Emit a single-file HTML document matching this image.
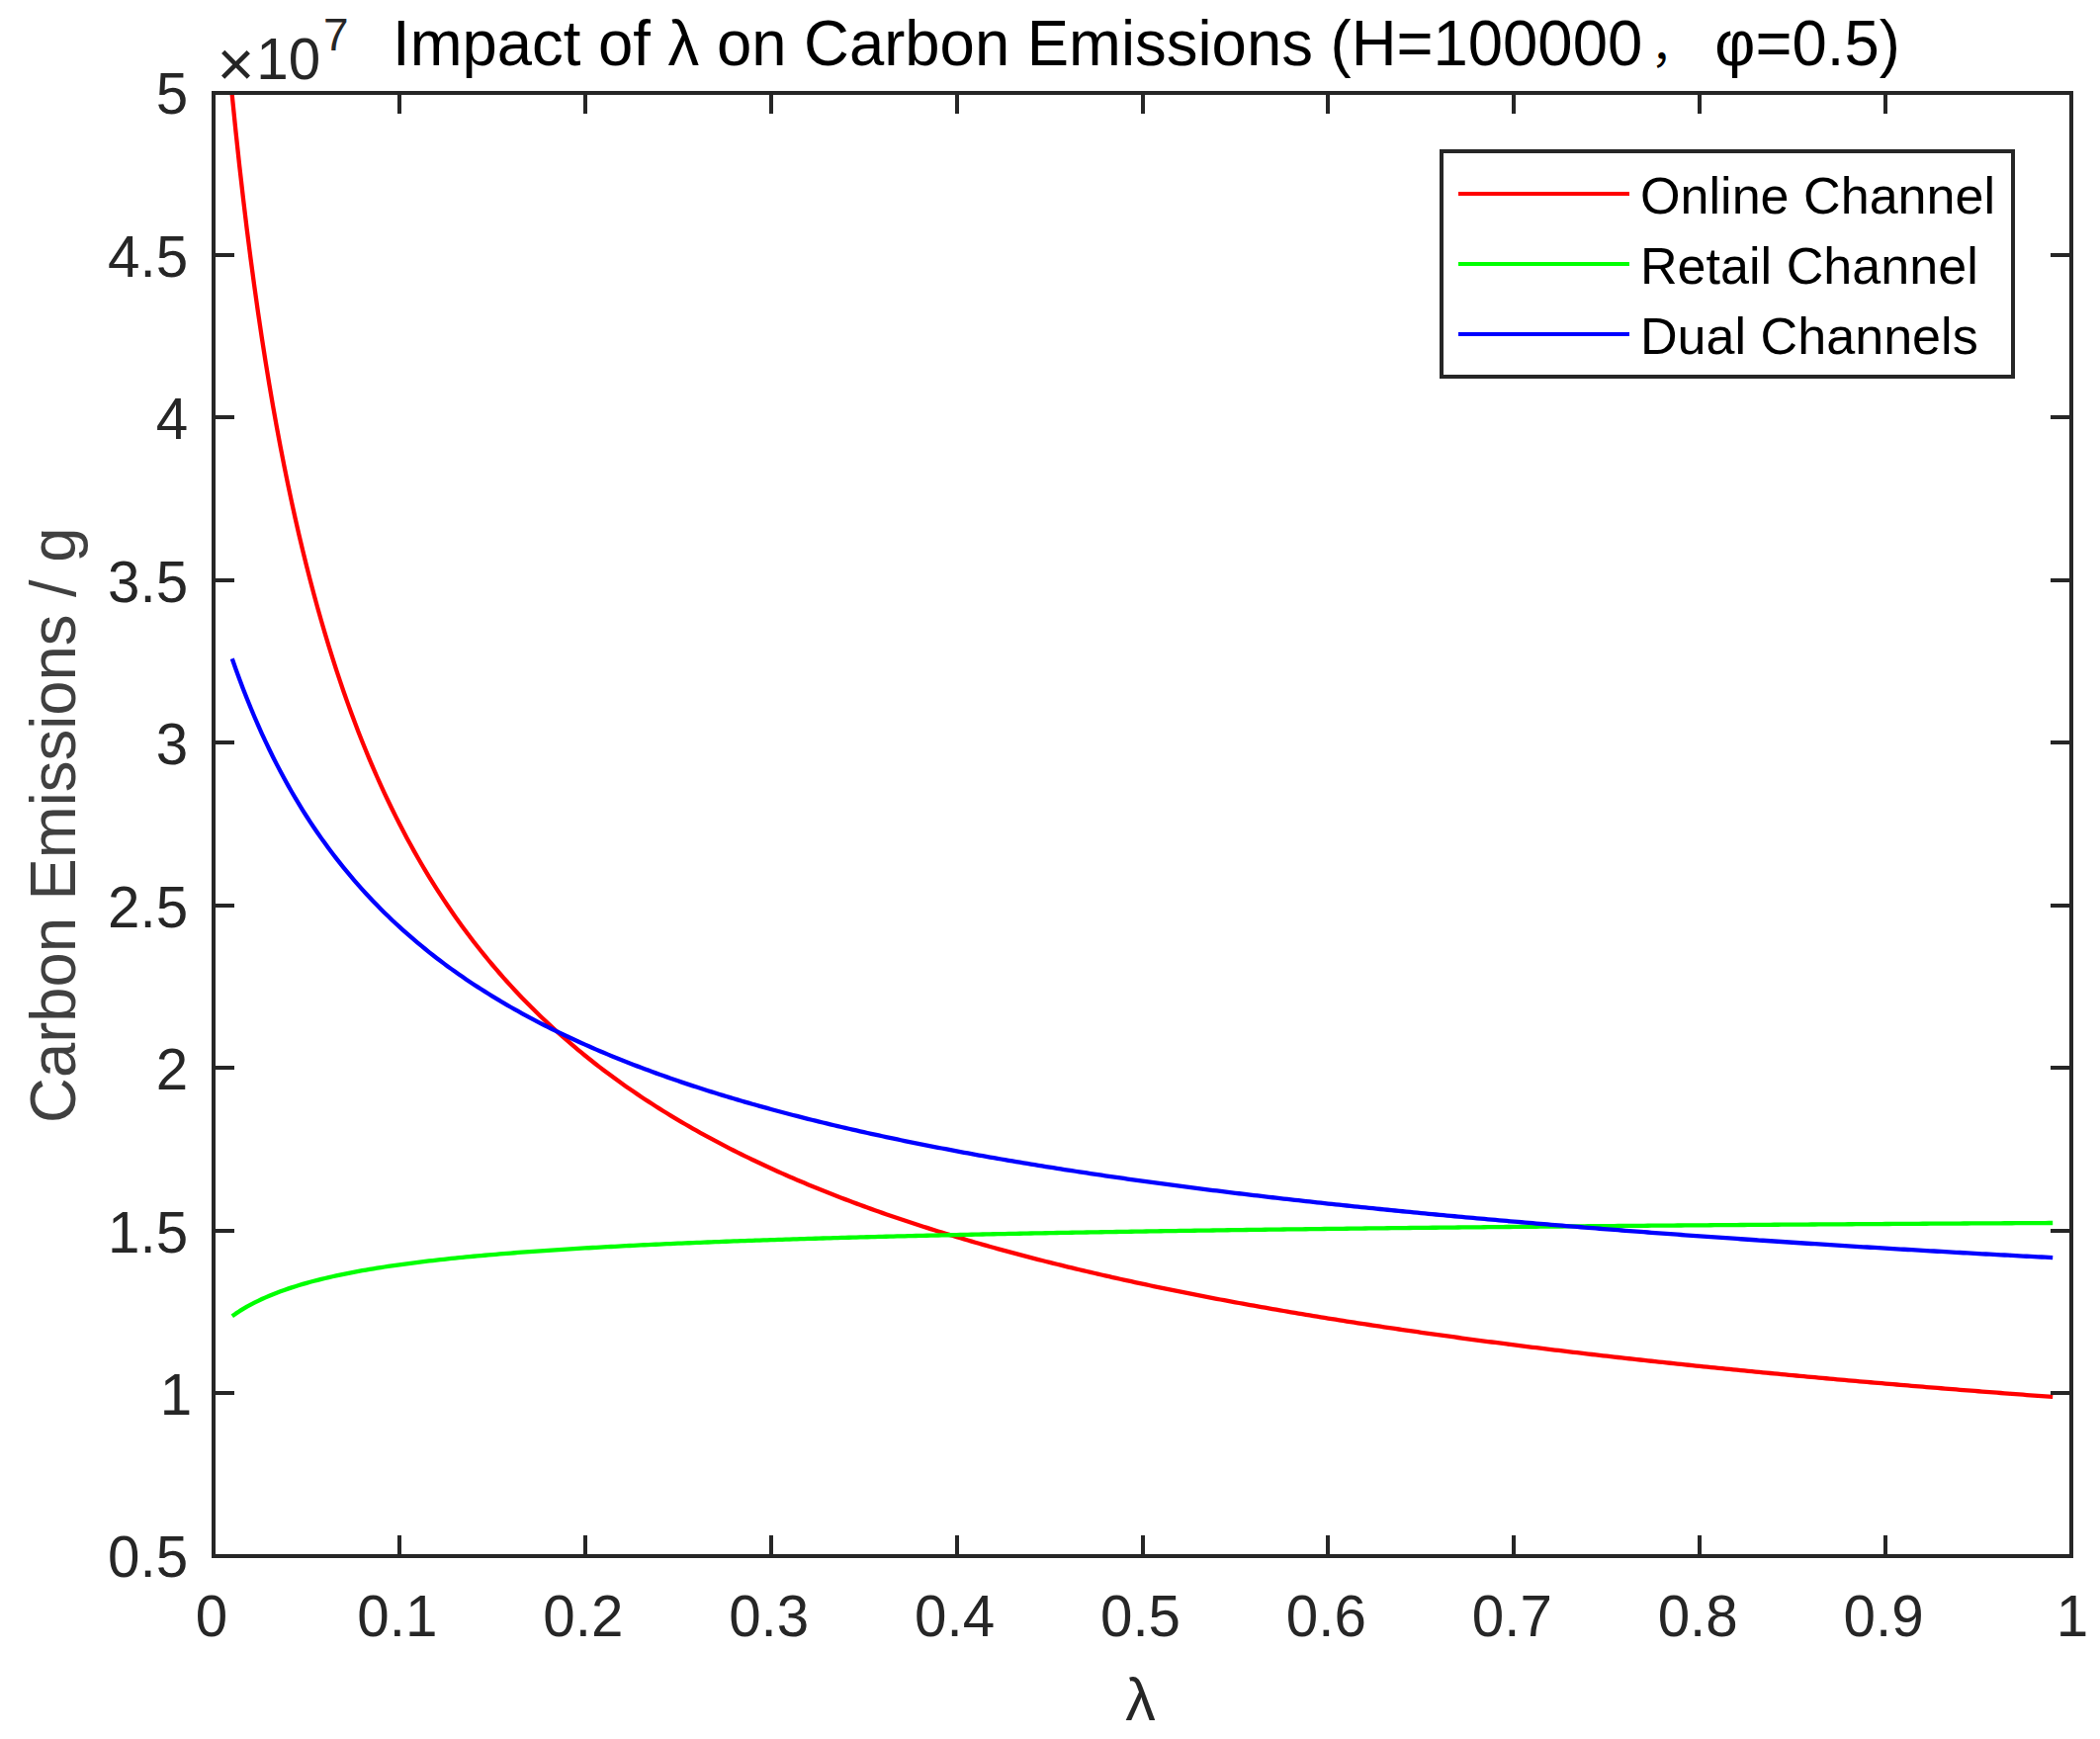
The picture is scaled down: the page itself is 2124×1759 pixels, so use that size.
<!DOCTYPE html>
<html lang="en">
<head>
<meta charset="utf-8">
<title>Impact of λ on Carbon Emissions</title>
<style>
html,body{margin:0;padding:0;background:#fff;}
body{width:2124px;height:1759px;overflow:hidden;}
svg{display:block;}
text{font-family:"Liberation Sans","Noto Sans CJK SC",sans-serif;}
.tk{font-size:58.33px;fill:#262626;}
.lb{font-size:64.17px;fill:#262626;}
.tt{font-size:64.17px;fill:#000;}
.lg{font-size:52.1px;fill:#000;}
.ax{stroke:#262626;stroke-width:4;fill:none;shape-rendering:crispEdges;}
.cv{fill:none;stroke-width:4.3;stroke-linejoin:round;stroke-linecap:butt;}
</style>
</head>
<body>
<svg width="2124" height="1759" viewBox="0 0 2124 1759">
<rect x="0" y="0" width="2124" height="1759" fill="#fff"/>
<defs><clipPath id="pc"><rect x="216" y="94" width="1879" height="1480"/></clipPath></defs>
<g clip-path="url(#pc)">
<polyline class="cv" stroke="#ff0000" points="234.23,90.90 234.79,96.66 238.55,133.75 242.31,168.65 246.06,201.57 249.82,232.68 253.58,262.14 257.34,290.07 261.10,316.61 264.85,341.87 268.61,365.93 272.37,388.89 276.13,410.82 279.89,431.80 283.64,451.90 287.40,471.16 291.16,489.65 294.92,507.41 298.68,524.49 302.43,540.93 306.19,556.77 309.95,572.03 313.71,586.76 317.47,600.99 321.22,614.73 324.98,628.02 328.74,640.88 332.50,653.33 336.26,665.40 340.01,677.09 343.77,688.44 347.53,699.44 351.29,710.13 355.05,720.52 358.80,730.61 362.56,740.43 366.32,749.98 370.08,759.28 373.84,768.33 377.59,777.15 381.35,785.74 385.11,794.12 388.87,802.29 392.63,810.26 396.38,818.05 400.14,825.65 403.90,833.07 407.66,840.32 411.42,847.41 415.17,854.34 418.93,861.11 422.69,867.74 426.45,874.23 430.21,880.58 433.96,886.79 437.72,892.88 441.48,898.84 445.24,904.69 449.00,910.41 452.75,916.03 456.51,921.53 460.27,926.93 464.03,932.23 467.79,937.43 471.54,942.53 475.30,947.53 479.06,952.45 482.82,957.28 486.58,962.02 490.33,966.68 494.09,971.26 497.85,975.75 501.61,980.18 505.37,984.52 509.12,988.80 512.88,993.00 516.64,997.14 520.40,1001.20 524.16,1005.21 527.91,1009.15 531.67,1013.02 535.43,1016.84 539.19,1020.60 542.95,1024.30 546.70,1027.94 550.46,1031.53 554.22,1035.07 557.98,1038.55 561.74,1041.98 565.49,1045.36 569.25,1048.70 573.01,1051.98 576.77,1055.22 580.53,1058.42 584.28,1061.57 588.04,1064.68 591.80,1067.74 595.56,1070.76 599.32,1073.75 603.07,1076.69 606.83,1079.59 610.59,1082.46 614.35,1085.28 618.11,1088.08 621.86,1090.83 625.62,1093.55 629.38,1096.24 633.14,1098.89 636.90,1101.51 640.65,1104.10 644.41,1106.65 648.17,1109.18 651.93,1111.67 655.69,1114.14 659.44,1116.57 663.20,1118.98 666.96,1121.35 670.72,1123.70 674.48,1126.03 678.23,1128.32 681.99,1130.59 685.75,1132.84 689.51,1135.06 693.27,1137.25 697.02,1139.42 700.78,1141.57 704.54,1143.69 708.30,1145.79 712.06,1147.87 715.81,1149.92 719.57,1151.95 723.33,1153.96 727.09,1155.95 730.85,1157.92 734.60,1159.87 738.36,1161.80 742.12,1163.71 745.88,1165.60 749.64,1167.47 753.39,1169.32 757.15,1171.15 760.91,1172.96 764.67,1174.76 768.43,1176.54 772.18,1178.30 775.94,1180.04 779.70,1181.77 783.46,1183.48 787.22,1185.17 790.97,1186.85 794.73,1188.51 798.49,1190.16 802.25,1191.79 806.01,1193.41 809.76,1195.01 813.52,1196.59 817.28,1198.17 821.04,1199.72 824.80,1201.27 828.55,1202.80 832.31,1204.31 836.07,1205.81 839.83,1207.30 843.59,1208.78 847.34,1210.24 851.10,1211.69 854.86,1213.13 858.62,1214.56 862.38,1215.97 866.13,1217.37 869.89,1218.76 873.65,1220.14 877.41,1221.50 881.17,1222.86 884.92,1224.20 888.68,1225.53 892.44,1226.85 896.20,1228.16 899.96,1229.46 903.71,1230.75 907.47,1232.03 911.23,1233.30 914.99,1234.56 918.75,1235.81 922.50,1237.04 926.26,1238.27 930.02,1239.49 933.78,1240.70 937.54,1241.90 941.29,1243.09 945.05,1244.27 948.81,1245.45 952.57,1246.61 956.33,1247.76 960.08,1248.91 963.84,1250.05 967.60,1251.18 971.36,1252.30 975.12,1253.41 978.87,1254.51 982.63,1255.61 986.39,1256.70 990.15,1257.78 993.91,1258.85 997.66,1259.91 1001.42,1260.97 1005.18,1262.02 1008.94,1263.06 1012.70,1264.10 1016.45,1265.12 1020.21,1266.14 1023.97,1267.16 1027.73,1268.16 1031.49,1269.16 1035.24,1270.15 1039.00,1271.14 1042.76,1272.11 1046.52,1273.08 1050.28,1274.05 1054.03,1275.01 1057.79,1275.96 1061.55,1276.90 1065.31,1277.84 1069.07,1278.78 1072.82,1279.70 1076.58,1280.62 1080.34,1281.54 1084.10,1282.45 1087.86,1283.35 1091.61,1284.24 1095.37,1285.13 1099.13,1286.02 1102.89,1286.90 1106.65,1287.77 1110.40,1288.64 1114.16,1289.50 1117.92,1290.36 1121.68,1291.21 1125.44,1292.06 1129.19,1292.90 1132.95,1293.73 1136.71,1294.56 1140.47,1295.39 1144.23,1296.21 1147.98,1297.03 1151.74,1297.84 1155.50,1298.64 1159.26,1299.44 1163.02,1300.24 1166.77,1301.03 1170.53,1301.81 1174.29,1302.59 1178.05,1303.37 1181.81,1304.14 1185.56,1304.91 1189.32,1305.67 1193.08,1306.43 1196.84,1307.18 1200.60,1307.93 1204.35,1308.68 1208.11,1309.42 1211.87,1310.16 1215.63,1310.89 1219.39,1311.62 1223.14,1312.34 1226.90,1313.06 1230.66,1313.78 1234.42,1314.49 1238.18,1315.19 1241.93,1315.90 1245.69,1316.60 1249.45,1317.29 1253.21,1317.99 1256.97,1318.67 1260.72,1319.36 1264.48,1320.04 1268.24,1320.71 1272.00,1321.39 1275.76,1322.06 1279.51,1322.72 1283.27,1323.38 1287.03,1324.04 1290.79,1324.70 1294.55,1325.35 1298.30,1326.00 1302.06,1326.64 1305.82,1327.28 1309.58,1327.92 1313.34,1328.55 1317.09,1329.19 1320.85,1329.81 1324.61,1330.44 1328.37,1331.06 1332.13,1331.68 1335.88,1332.29 1339.64,1332.90 1343.40,1333.51 1347.16,1334.12 1350.92,1334.72 1354.67,1335.32 1358.43,1335.91 1362.19,1336.51 1365.95,1337.10 1369.71,1337.68 1373.46,1338.27 1377.22,1338.85 1380.98,1339.43 1384.74,1340.00 1388.50,1340.57 1392.25,1341.14 1396.01,1341.71 1399.77,1342.27 1403.53,1342.83 1407.29,1343.39 1411.04,1343.95 1414.80,1344.50 1418.56,1345.05 1422.32,1345.60 1426.08,1346.14 1429.83,1346.69 1433.59,1347.23 1437.35,1347.76 1441.11,1348.30 1444.87,1348.83 1448.62,1349.36 1452.38,1349.89 1456.14,1350.41 1459.90,1350.93 1463.66,1351.45 1467.41,1351.97 1471.17,1352.49 1474.93,1353.00 1478.69,1353.51 1482.45,1354.02 1486.20,1354.52 1489.96,1355.02 1493.72,1355.52 1497.48,1356.02 1501.24,1356.52 1504.99,1357.01 1508.75,1357.50 1512.51,1357.99 1516.27,1358.48 1520.03,1358.97 1523.78,1359.45 1527.54,1359.93 1531.30,1360.41 1535.06,1360.88 1538.82,1361.36 1542.57,1361.83 1546.33,1362.30 1550.09,1362.77 1553.85,1363.24 1557.61,1363.70 1561.36,1364.16 1565.12,1364.62 1568.88,1365.08 1572.64,1365.54 1576.40,1365.99 1580.15,1366.44 1583.91,1366.89 1587.67,1367.34 1591.43,1367.79 1595.19,1368.23 1598.94,1368.67 1602.70,1369.11 1606.46,1369.55 1610.22,1369.99 1613.98,1370.42 1617.73,1370.86 1621.49,1371.29 1625.25,1371.72 1629.01,1372.15 1632.77,1372.57 1636.52,1373.00 1640.28,1373.42 1644.04,1373.84 1647.80,1374.26 1651.56,1374.68 1655.31,1375.09 1659.07,1375.50 1662.83,1375.92 1666.59,1376.33 1670.35,1376.74 1674.10,1377.14 1677.86,1377.55 1681.62,1377.95 1685.38,1378.36 1689.14,1378.76 1692.89,1379.16 1696.65,1379.55 1700.41,1379.95 1704.17,1380.34 1707.93,1380.74 1711.68,1381.13 1715.44,1381.52 1719.20,1381.90 1722.96,1382.29 1726.72,1382.68 1730.47,1383.06 1734.23,1383.44 1737.99,1383.82 1741.75,1384.20 1745.51,1384.58 1749.26,1384.96 1753.02,1385.33 1756.78,1385.70 1760.54,1386.08 1764.30,1386.45 1768.05,1386.82 1771.81,1387.18 1775.57,1387.55 1779.33,1387.91 1783.09,1388.28 1786.84,1388.64 1790.60,1389.00 1794.36,1389.36 1798.12,1389.72 1801.88,1390.07 1805.63,1390.43 1809.39,1390.78 1813.15,1391.14 1816.91,1391.49 1820.67,1391.84 1824.42,1392.19 1828.18,1392.54 1831.94,1392.88 1835.70,1393.23 1839.46,1393.57 1843.21,1393.91 1846.97,1394.25 1850.73,1394.59 1854.49,1394.93 1858.25,1395.27 1862.00,1395.61 1865.76,1395.94 1869.52,1396.28 1873.28,1396.61 1877.04,1396.94 1880.79,1397.27 1884.55,1397.60 1888.31,1397.93 1892.07,1398.26 1895.83,1398.58 1899.58,1398.91 1903.34,1399.23 1907.10,1399.55 1910.86,1399.87 1914.62,1400.19 1918.37,1400.51 1922.13,1400.83 1925.89,1401.15 1929.65,1401.46 1933.41,1401.78 1937.16,1402.09 1940.92,1402.40 1944.68,1402.71 1948.44,1403.02 1952.20,1403.33 1955.95,1403.64 1959.71,1403.95 1963.47,1404.25 1967.23,1404.56 1970.99,1404.86 1974.74,1405.17 1978.50,1405.47 1982.26,1405.77 1986.02,1406.07 1989.78,1406.37 1993.53,1406.66 1997.29,1406.96 2001.05,1407.26 2004.81,1407.55 2008.57,1407.85 2012.32,1408.14 2016.08,1408.43 2019.84,1408.72 2023.60,1409.01 2027.36,1409.30 2031.11,1409.59 2034.87,1409.88 2038.63,1410.16 2042.39,1410.45 2046.15,1410.73 2049.90,1411.02 2053.66,1411.30 2057.42,1411.58 2061.18,1411.86 2064.94,1412.14 2068.69,1412.42 2072.45,1412.70 2076.21,1412.97"/>
<polyline class="cv" stroke="#00ff00" points="234.79,1331.24 238.55,1328.65 242.31,1326.20 246.06,1323.90 249.82,1321.71 253.58,1319.65 257.34,1317.69 261.10,1315.83 264.85,1314.05 268.61,1312.36 272.37,1310.75 276.13,1309.21 279.89,1307.73 283.64,1306.31 287.40,1304.96 291.16,1303.65 294.92,1302.40 298.68,1301.20 302.43,1300.04 306.19,1298.92 309.95,1297.84 313.71,1296.80 317.47,1295.79 321.22,1294.82 324.98,1293.88 328.74,1292.97 332.50,1292.09 336.26,1291.23 340.01,1290.40 343.77,1289.60 347.53,1288.82 351.29,1288.06 355.05,1287.32 358.80,1286.61 362.56,1285.91 366.32,1285.23 370.08,1284.57 373.84,1283.92 377.59,1283.30 381.35,1282.68 385.11,1282.09 388.87,1281.50 392.63,1280.94 396.38,1280.38 400.14,1279.84 403.90,1279.31 407.66,1278.79 411.42,1278.29 415.17,1277.79 418.93,1277.31 422.69,1276.83 426.45,1276.37 430.21,1275.91 433.96,1275.47 437.72,1275.03 441.48,1274.61 445.24,1274.19 449.00,1273.78 452.75,1273.38 456.51,1272.98 460.27,1272.59 464.03,1272.21 467.79,1271.84 471.54,1271.47 475.30,1271.12 479.06,1270.76 482.82,1270.42 486.58,1270.07 490.33,1269.74 494.09,1269.41 497.85,1269.09 501.61,1268.77 505.37,1268.46 509.12,1268.15 512.88,1267.85 516.64,1267.55 520.40,1267.25 524.16,1266.97 527.91,1266.68 531.67,1266.40 535.43,1266.13 539.19,1265.86 542.95,1265.59 546.70,1265.33 550.46,1265.07 554.22,1264.81 557.98,1264.56 561.74,1264.31 565.49,1264.07 569.25,1263.83 573.01,1263.59 576.77,1263.35 580.53,1263.12 584.28,1262.90 588.04,1262.67 591.80,1262.45 595.56,1262.23 599.32,1262.01 603.07,1261.80 606.83,1261.59 610.59,1261.38 614.35,1261.18 618.11,1260.98 621.86,1260.78 625.62,1260.58 629.38,1260.38 633.14,1260.19 636.90,1260.00 640.65,1259.81 644.41,1259.63 648.17,1259.44 651.93,1259.26 655.69,1259.08 659.44,1258.91 663.20,1258.73 666.96,1258.56 670.72,1258.39 674.48,1258.22 678.23,1258.05 681.99,1257.89 685.75,1257.72 689.51,1257.56 693.27,1257.40 697.02,1257.24 700.78,1257.09 704.54,1256.93 708.30,1256.78 712.06,1256.63 715.81,1256.48 719.57,1256.33 723.33,1256.18 727.09,1256.04 730.85,1255.90 734.60,1255.75 738.36,1255.61 742.12,1255.47 745.88,1255.33 749.64,1255.20 753.39,1255.06 757.15,1254.93 760.91,1254.80 764.67,1254.67 768.43,1254.54 772.18,1254.41 775.94,1254.28 779.70,1254.15 783.46,1254.03 787.22,1253.90 790.97,1253.78 794.73,1253.66 798.49,1253.54 802.25,1253.42 806.01,1253.30 809.76,1253.18 813.52,1253.07 817.28,1252.95 821.04,1252.84 824.80,1252.73 828.55,1252.61 832.31,1252.50 836.07,1252.39 839.83,1252.28 843.59,1252.18 847.34,1252.07 851.10,1251.96 854.86,1251.86 858.62,1251.75 862.38,1251.65 866.13,1251.54 869.89,1251.44 873.65,1251.34 877.41,1251.24 881.17,1251.14 884.92,1251.04 888.68,1250.95 892.44,1250.85 896.20,1250.75 899.96,1250.66 903.71,1250.56 907.47,1250.47 911.23,1250.37 914.99,1250.28 918.75,1250.19 922.50,1250.10 926.26,1250.01 930.02,1249.92 933.78,1249.83 937.54,1249.74 941.29,1249.65 945.05,1249.57 948.81,1249.48 952.57,1249.39 956.33,1249.31 960.08,1249.23 963.84,1249.14 967.60,1249.06 971.36,1248.98 975.12,1248.89 978.87,1248.81 982.63,1248.73 986.39,1248.65 990.15,1248.57 993.91,1248.49 997.66,1248.41 1001.42,1248.34 1005.18,1248.26 1008.94,1248.18 1012.70,1248.11 1016.45,1248.03 1020.21,1247.95 1023.97,1247.88 1027.73,1247.81 1031.49,1247.73 1035.24,1247.66 1039.00,1247.59 1042.76,1247.51 1046.52,1247.44 1050.28,1247.37 1054.03,1247.30 1057.79,1247.23 1061.55,1247.16 1065.31,1247.09 1069.07,1247.02 1072.82,1246.95 1076.58,1246.88 1080.34,1246.82 1084.10,1246.75 1087.86,1246.68 1091.61,1246.62 1095.37,1246.55 1099.13,1246.48 1102.89,1246.42 1106.65,1246.35 1110.40,1246.29 1114.16,1246.23 1117.92,1246.16 1121.68,1246.10 1125.44,1246.04 1129.19,1245.98 1132.95,1245.91 1136.71,1245.85 1140.47,1245.79 1144.23,1245.73 1147.98,1245.67 1151.74,1245.61 1155.50,1245.55 1159.26,1245.49 1163.02,1245.43 1166.77,1245.37 1170.53,1245.31 1174.29,1245.26 1178.05,1245.20 1181.81,1245.14 1185.56,1245.08 1189.32,1245.03 1193.08,1244.97 1196.84,1244.92 1200.60,1244.86 1204.35,1244.80 1208.11,1244.75 1211.87,1244.69 1215.63,1244.64 1219.39,1244.59 1223.14,1244.53 1226.90,1244.48 1230.66,1244.43 1234.42,1244.37 1238.18,1244.32 1241.93,1244.27 1245.69,1244.22 1249.45,1244.16 1253.21,1244.11 1256.97,1244.06 1260.72,1244.01 1264.48,1243.96 1268.24,1243.91 1272.00,1243.86 1275.76,1243.81 1279.51,1243.76 1283.27,1243.71 1287.03,1243.66 1290.79,1243.61 1294.55,1243.57 1298.30,1243.52 1302.06,1243.47 1305.82,1243.42 1309.58,1243.37 1313.34,1243.33 1317.09,1243.28 1320.85,1243.23 1324.61,1243.19 1328.37,1243.14 1332.13,1243.09 1335.88,1243.05 1339.64,1243.00 1343.40,1242.96 1347.16,1242.91 1350.92,1242.87 1354.67,1242.82 1358.43,1242.78 1362.19,1242.73 1365.95,1242.69 1369.71,1242.65 1373.46,1242.60 1377.22,1242.56 1380.98,1242.52 1384.74,1242.47 1388.50,1242.43 1392.25,1242.39 1396.01,1242.35 1399.77,1242.30 1403.53,1242.26 1407.29,1242.22 1411.04,1242.18 1414.80,1242.14 1418.56,1242.10 1422.32,1242.06 1426.08,1242.01 1429.83,1241.97 1433.59,1241.93 1437.35,1241.89 1441.11,1241.85 1444.87,1241.81 1448.62,1241.77 1452.38,1241.73 1456.14,1241.70 1459.90,1241.66 1463.66,1241.62 1467.41,1241.58 1471.17,1241.54 1474.93,1241.50 1478.69,1241.46 1482.45,1241.43 1486.20,1241.39 1489.96,1241.35 1493.72,1241.31 1497.48,1241.28 1501.24,1241.24 1504.99,1241.20 1508.75,1241.16 1512.51,1241.13 1516.27,1241.09 1520.03,1241.06 1523.78,1241.02 1527.54,1240.98 1531.30,1240.95 1535.06,1240.91 1538.82,1240.88 1542.57,1240.84 1546.33,1240.81 1550.09,1240.77 1553.85,1240.74 1557.61,1240.70 1561.36,1240.67 1565.12,1240.63 1568.88,1240.60 1572.64,1240.56 1576.40,1240.53 1580.15,1240.50 1583.91,1240.46 1587.67,1240.43 1591.43,1240.39 1595.19,1240.36 1598.94,1240.33 1602.70,1240.30 1606.46,1240.26 1610.22,1240.23 1613.98,1240.20 1617.73,1240.16 1621.49,1240.13 1625.25,1240.10 1629.01,1240.07 1632.77,1240.04 1636.52,1240.00 1640.28,1239.97 1644.04,1239.94 1647.80,1239.91 1651.56,1239.88 1655.31,1239.85 1659.07,1239.82 1662.83,1239.78 1666.59,1239.75 1670.35,1239.72 1674.10,1239.69 1677.86,1239.66 1681.62,1239.63 1685.38,1239.60 1689.14,1239.57 1692.89,1239.54 1696.65,1239.51 1700.41,1239.48 1704.17,1239.45 1707.93,1239.42 1711.68,1239.39 1715.44,1239.36 1719.20,1239.33 1722.96,1239.31 1726.72,1239.28 1730.47,1239.25 1734.23,1239.22 1737.99,1239.19 1741.75,1239.16 1745.51,1239.13 1749.26,1239.11 1753.02,1239.08 1756.78,1239.05 1760.54,1239.02 1764.30,1238.99 1768.05,1238.97 1771.81,1238.94 1775.57,1238.91 1779.33,1238.88 1783.09,1238.86 1786.84,1238.83 1790.60,1238.80 1794.36,1238.77 1798.12,1238.75 1801.88,1238.72 1805.63,1238.69 1809.39,1238.67 1813.15,1238.64 1816.91,1238.61 1820.67,1238.59 1824.42,1238.56 1828.18,1238.53 1831.94,1238.51 1835.70,1238.48 1839.46,1238.46 1843.21,1238.43 1846.97,1238.41 1850.73,1238.38 1854.49,1238.35 1858.25,1238.33 1862.00,1238.30 1865.76,1238.28 1869.52,1238.25 1873.28,1238.23 1877.04,1238.20 1880.79,1238.18 1884.55,1238.15 1888.31,1238.13 1892.07,1238.10 1895.83,1238.08 1899.58,1238.05 1903.34,1238.03 1907.10,1238.01 1910.86,1237.98 1914.62,1237.96 1918.37,1237.93 1922.13,1237.91 1925.89,1237.89 1929.65,1237.86 1933.41,1237.84 1937.16,1237.81 1940.92,1237.79 1944.68,1237.77 1948.44,1237.74 1952.20,1237.72 1955.95,1237.70 1959.71,1237.67 1963.47,1237.65 1967.23,1237.63 1970.99,1237.60 1974.74,1237.58 1978.50,1237.56 1982.26,1237.54 1986.02,1237.51 1989.78,1237.49 1993.53,1237.47 1997.29,1237.45 2001.05,1237.42 2004.81,1237.40 2008.57,1237.38 2012.32,1237.36 2016.08,1237.34 2019.84,1237.31 2023.60,1237.29 2027.36,1237.27 2031.11,1237.25 2034.87,1237.23 2038.63,1237.20 2042.39,1237.18 2046.15,1237.16 2049.90,1237.14 2053.66,1237.12 2057.42,1237.10 2061.18,1237.08 2064.94,1237.05 2068.69,1237.03 2072.45,1237.01 2076.21,1236.99"/>
<polyline class="cv" stroke="#0000ff" points="234.79,666.25 238.55,676.93 242.31,687.23 246.06,697.17 249.82,706.76 253.58,716.02 257.34,724.98 261.10,733.65 264.85,742.04 268.61,750.17 272.37,758.05 276.13,765.70 279.89,773.11 283.64,780.32 287.40,787.32 291.16,794.12 294.92,800.74 298.68,807.18 302.43,813.45 306.19,819.55 309.95,825.50 313.71,831.30 317.47,836.96 321.22,842.47 324.98,847.86 328.74,853.11 332.50,858.24 336.26,863.26 340.01,868.16 343.77,872.95 347.53,877.64 351.29,882.22 355.05,886.71 358.80,891.10 362.56,895.40 366.32,899.61 370.08,903.73 373.84,907.77 377.59,911.74 381.35,915.62 385.11,919.43 388.87,923.16 392.63,926.83 396.38,930.43 400.14,933.96 403.90,937.42 407.66,940.83 411.42,944.17 415.17,947.45 418.93,950.68 422.69,953.85 426.45,956.97 430.21,960.03 433.96,963.05 437.72,966.01 441.48,968.93 445.24,971.80 449.00,974.62 452.75,977.40 456.51,980.13 460.27,982.82 464.03,985.47 467.79,988.08 471.54,990.65 475.30,993.18 479.06,995.68 482.82,998.13 486.58,1000.56 490.33,1002.94 494.09,1005.30 497.85,1007.61 501.61,1009.90 505.37,1012.16 509.12,1014.38 512.88,1016.58 516.64,1018.74 520.40,1020.87 524.16,1022.98 527.91,1025.06 531.67,1027.11 535.43,1029.14 539.19,1031.14 542.95,1033.11 546.70,1035.06 550.46,1036.98 554.22,1038.88 557.98,1040.76 561.74,1042.61 565.49,1044.44 569.25,1046.25 573.01,1048.04 576.77,1049.80 580.53,1051.55 584.28,1053.27 588.04,1054.98 591.80,1056.66 595.56,1058.33 599.32,1059.97 603.07,1061.60 606.83,1063.21 610.59,1064.80 614.35,1066.37 618.11,1067.93 621.86,1069.47 625.62,1070.99 629.38,1072.50 633.14,1073.99 636.90,1075.46 640.65,1076.92 644.41,1078.37 648.17,1079.80 651.93,1081.21 655.69,1082.61 659.44,1083.99 663.20,1085.36 666.96,1086.72 670.72,1088.06 674.48,1089.39 678.23,1090.71 681.99,1092.02 685.75,1093.31 689.51,1094.59 693.27,1095.85 697.02,1097.11 700.78,1098.35 704.54,1099.58 708.30,1100.80 712.06,1102.01 715.81,1103.20 719.57,1104.39 723.33,1105.56 727.09,1106.72 730.85,1107.88 734.60,1109.02 738.36,1110.15 742.12,1111.27 745.88,1112.39 749.64,1113.49 753.39,1114.58 757.15,1115.66 760.91,1116.74 764.67,1117.80 768.43,1118.86 772.18,1119.90 775.94,1120.94 779.70,1121.97 783.46,1122.99 787.22,1124.00 790.97,1125.00 794.73,1126.00 798.49,1126.98 802.25,1127.96 806.01,1128.93 809.76,1129.90 813.52,1130.85 817.28,1131.80 821.04,1132.74 824.80,1133.67 828.55,1134.59 832.31,1135.51 836.07,1136.42 839.83,1137.32 843.59,1138.22 847.34,1139.11 851.10,1139.99 854.86,1140.87 858.62,1141.74 862.38,1142.60 866.13,1143.45 869.89,1144.30 873.65,1145.15 877.41,1145.98 881.17,1146.81 884.92,1147.64 888.68,1148.46 892.44,1149.27 896.20,1150.08 899.96,1150.88 903.71,1151.67 907.47,1152.46 911.23,1153.25 914.99,1154.02 918.75,1154.80 922.50,1155.56 926.26,1156.33 930.02,1157.08 933.78,1157.83 937.54,1158.58 941.29,1159.32 945.05,1160.06 948.81,1160.79 952.57,1161.51 956.33,1162.23 960.08,1162.95 963.84,1163.66 967.60,1164.37 971.36,1165.07 975.12,1165.77 978.87,1166.46 982.63,1167.15 986.39,1167.83 990.15,1168.51 993.91,1169.19 997.66,1169.86 1001.42,1170.52 1005.18,1171.19 1008.94,1171.84 1012.70,1172.50 1016.45,1173.15 1020.21,1173.79 1023.97,1174.43 1027.73,1175.07 1031.49,1175.70 1035.24,1176.33 1039.00,1176.96 1042.76,1177.58 1046.52,1178.20 1050.28,1178.81 1054.03,1179.42 1057.79,1180.03 1061.55,1180.63 1065.31,1181.23 1069.07,1181.83 1072.82,1182.42 1076.58,1183.01 1080.34,1183.59 1084.10,1184.17 1087.86,1184.75 1091.61,1185.33 1095.37,1185.90 1099.13,1186.47 1102.89,1187.03 1106.65,1187.59 1110.40,1188.15 1114.16,1188.71 1117.92,1189.26 1121.68,1189.81 1125.44,1190.35 1129.19,1190.90 1132.95,1191.44 1136.71,1191.97 1140.47,1192.51 1144.23,1193.04 1147.98,1193.56 1151.74,1194.09 1155.50,1194.61 1159.26,1195.13 1163.02,1195.65 1166.77,1196.16 1170.53,1196.67 1174.29,1197.18 1178.05,1197.68 1181.81,1198.19 1185.56,1198.69 1189.32,1199.18 1193.08,1199.68 1196.84,1200.17 1200.60,1200.66 1204.35,1201.14 1208.11,1201.63 1211.87,1202.11 1215.63,1202.59 1219.39,1203.07 1223.14,1203.54 1226.90,1204.01 1230.66,1204.48 1234.42,1204.95 1238.18,1205.41 1241.93,1205.87 1245.69,1206.33 1249.45,1206.79 1253.21,1207.25 1256.97,1207.70 1260.72,1208.15 1264.48,1208.60 1268.24,1209.04 1272.00,1209.49 1275.76,1209.93 1279.51,1210.37 1283.27,1210.80 1287.03,1211.24 1290.79,1211.67 1294.55,1212.10 1298.30,1212.53 1302.06,1212.96 1305.82,1213.38 1309.58,1213.81 1313.34,1214.23 1317.09,1214.64 1320.85,1215.06 1324.61,1215.48 1328.37,1215.89 1332.13,1216.30 1335.88,1216.71 1339.64,1217.11 1343.40,1217.52 1347.16,1217.92 1350.92,1218.32 1354.67,1218.72 1358.43,1219.12 1362.19,1219.51 1365.95,1219.91 1369.71,1220.30 1373.46,1220.69 1377.22,1221.08 1380.98,1221.47 1384.74,1221.85 1388.50,1222.23 1392.25,1222.61 1396.01,1222.99 1399.77,1223.37 1403.53,1223.75 1407.29,1224.12 1411.04,1224.50 1414.80,1224.87 1418.56,1225.24 1422.32,1225.60 1426.08,1225.97 1429.83,1226.33 1433.59,1226.70 1437.35,1227.06 1441.11,1227.42 1444.87,1227.78 1448.62,1228.13 1452.38,1228.49 1456.14,1228.84 1459.90,1229.20 1463.66,1229.55 1467.41,1229.90 1471.17,1230.24 1474.93,1230.59 1478.69,1230.93 1482.45,1231.28 1486.20,1231.62 1489.96,1231.96 1493.72,1232.30 1497.48,1232.64 1501.24,1232.97 1504.99,1233.31 1508.75,1233.64 1512.51,1233.97 1516.27,1234.30 1520.03,1234.63 1523.78,1234.96 1527.54,1235.29 1531.30,1235.61 1535.06,1235.94 1538.82,1236.26 1542.57,1236.58 1546.33,1236.90 1550.09,1237.22 1553.85,1237.54 1557.61,1237.85 1561.36,1238.17 1565.12,1238.48 1568.88,1238.79 1572.64,1239.10 1576.40,1239.41 1580.15,1239.72 1583.91,1240.03 1587.67,1240.34 1591.43,1240.64 1595.19,1240.95 1598.94,1241.25 1602.70,1241.55 1606.46,1241.85 1610.22,1242.15 1613.98,1242.45 1617.73,1242.74 1621.49,1243.04 1625.25,1243.33 1629.01,1243.63 1632.77,1243.92 1636.52,1244.21 1640.28,1244.50 1644.04,1244.79 1647.80,1245.08 1651.56,1245.37 1655.31,1245.65 1659.07,1245.94 1662.83,1246.22 1666.59,1246.50 1670.35,1246.78 1674.10,1247.06 1677.86,1247.34 1681.62,1247.62 1685.38,1247.90 1689.14,1248.18 1692.89,1248.45 1696.65,1248.73 1700.41,1249.00 1704.17,1249.27 1707.93,1249.54 1711.68,1249.81 1715.44,1250.08 1719.20,1250.35 1722.96,1250.62 1726.72,1250.88 1730.47,1251.15 1734.23,1251.41 1737.99,1251.68 1741.75,1251.94 1745.51,1252.20 1749.26,1252.46 1753.02,1252.72 1756.78,1252.98 1760.54,1253.24 1764.30,1253.50 1768.05,1253.75 1771.81,1254.01 1775.57,1254.26 1779.33,1254.52 1783.09,1254.77 1786.84,1255.02 1790.60,1255.27 1794.36,1255.52 1798.12,1255.77 1801.88,1256.02 1805.63,1256.27 1809.39,1256.51 1813.15,1256.76 1816.91,1257.00 1820.67,1257.25 1824.42,1257.49 1828.18,1257.73 1831.94,1257.98 1835.70,1258.22 1839.46,1258.46 1843.21,1258.70 1846.97,1258.93 1850.73,1259.17 1854.49,1259.41 1858.25,1259.65 1862.00,1259.88 1865.76,1260.11 1869.52,1260.35 1873.28,1260.58 1877.04,1260.81 1880.79,1261.05 1884.55,1261.28 1888.31,1261.51 1892.07,1261.73 1895.83,1261.96 1899.58,1262.19 1903.34,1262.42 1907.10,1262.64 1910.86,1262.87 1914.62,1263.09 1918.37,1263.32 1922.13,1263.54 1925.89,1263.76 1929.65,1263.99 1933.41,1264.21 1937.16,1264.43 1940.92,1264.65 1944.68,1264.87 1948.44,1265.08 1952.20,1265.30 1955.95,1265.52 1959.71,1265.73 1963.47,1265.95 1967.23,1266.16 1970.99,1266.38 1974.74,1266.59 1978.50,1266.81 1982.26,1267.02 1986.02,1267.23 1989.78,1267.44 1993.53,1267.65 1997.29,1267.86 2001.05,1268.07 2004.81,1268.28 2008.57,1268.48 2012.32,1268.69 2016.08,1268.90 2019.84,1269.10 2023.60,1269.31 2027.36,1269.51 2031.11,1269.72 2034.87,1269.92 2038.63,1270.12 2042.39,1270.33 2046.15,1270.53 2049.90,1270.73 2053.66,1270.93 2057.42,1271.13 2061.18,1271.33 2064.94,1271.52 2068.69,1271.72 2072.45,1271.92 2076.21,1272.12"/>
</g>
<g class="ax">
<line x1="404" y1="1574" x2="404" y2="1553"/><line x1="404" y1="94" x2="404" y2="115"/>
<line x1="592" y1="1574" x2="592" y2="1553"/><line x1="592" y1="94" x2="592" y2="115"/>
<line x1="780" y1="1574" x2="780" y2="1553"/><line x1="780" y1="94" x2="780" y2="115"/>
<line x1="968" y1="1574" x2="968" y2="1553"/><line x1="968" y1="94" x2="968" y2="115"/>
<line x1="1156" y1="1574" x2="1156" y2="1553"/><line x1="1156" y1="94" x2="1156" y2="115"/>
<line x1="1343" y1="1574" x2="1343" y2="1553"/><line x1="1343" y1="94" x2="1343" y2="115"/>
<line x1="1531" y1="1574" x2="1531" y2="1553"/><line x1="1531" y1="94" x2="1531" y2="115"/>
<line x1="1719" y1="1574" x2="1719" y2="1553"/><line x1="1719" y1="94" x2="1719" y2="115"/>
<line x1="1907" y1="1574" x2="1907" y2="1553"/><line x1="1907" y1="94" x2="1907" y2="115"/>
<line x1="216" y1="258" x2="237" y2="258"/><line x1="2095" y1="258" x2="2074" y2="258"/>
<line x1="216" y1="422" x2="237" y2="422"/><line x1="2095" y1="422" x2="2074" y2="422"/>
<line x1="216" y1="587" x2="237" y2="587"/><line x1="2095" y1="587" x2="2074" y2="587"/>
<line x1="216" y1="751" x2="237" y2="751"/><line x1="2095" y1="751" x2="2074" y2="751"/>
<line x1="216" y1="916" x2="237" y2="916"/><line x1="2095" y1="916" x2="2074" y2="916"/>
<line x1="216" y1="1080" x2="237" y2="1080"/><line x1="2095" y1="1080" x2="2074" y2="1080"/>
<line x1="216" y1="1245" x2="237" y2="1245"/><line x1="2095" y1="1245" x2="2074" y2="1245"/>
<line x1="216" y1="1409" x2="237" y2="1409"/><line x1="2095" y1="1409" x2="2074" y2="1409"/>
<rect x="216" y="94" width="1879" height="1480"/>
</g>
<g class="tk" text-anchor="middle">
<text x="214.0" y="1654.5">0</text>
<text x="401.9" y="1654.5">0.1</text>
<text x="589.8" y="1654.5">0.2</text>
<text x="777.7" y="1654.5">0.3</text>
<text x="965.6" y="1654.5">0.4</text>
<text x="1153.5" y="1654.5">0.5</text>
<text x="1341.4" y="1654.5">0.6</text>
<text x="1529.3" y="1654.5">0.7</text>
<text x="1717.2" y="1654.5">0.8</text>
<text x="1905.1" y="1654.5">0.9</text>
<text x="2096.0" y="1654.5">1</text>
</g>
<g class="tk" text-anchor="end">
<text x="190.2" y="115.4">5</text>
<text x="190.2" y="279.8">4.5</text>
<text x="190.2" y="444.3">4</text>
<text x="190.2" y="608.7">3.5</text>
<text x="190.2" y="773.2">3</text>
<text x="190.2" y="937.6">2.5</text>
<text x="190.2" y="1102.1">2</text>
<text x="190.2" y="1266.5">1.5</text>
<text x="194.2" y="1431.0">1</text>
<text x="190.2" y="1595.4">0.5</text>
</g>
<text class="tk" y="79.5"><tspan x="219.5" y="86.9" style="font-size:65px">×</tspan><tspan x="259.3" y="79.5">10</tspan></text>
<text class="tk" style="font-size:46px" x="327" y="51">7</text>
<text class="tt" transform="translate(397.0,66.2) scale(0.989,1)">Impact of λ on Carbon Emissions (H=100000</text>
<text class="tt" style="font-size:46px" x="1669.5" y="63">，</text>
<text class="tt" transform="translate(1734.3,66.2) scale(0.989,1)">φ=0.5)</text>
<text class="lb" style="font-size:61px" text-anchor="middle" x="1153.4" y="1739.8">λ</text>
<text class="lb" style="fill:#404040" text-anchor="middle" transform="translate(76.2,834.7) rotate(-90) scale(0.988,1)">Carbon Emissions / g</text>
<rect x="1458" y="153" width="578" height="227.5" fill="#fff" stroke="#262626" stroke-width="4" shape-rendering="crispEdges"/>
<line x1="1475" y1="196" x2="1648" y2="196" stroke="#ff0000" stroke-width="4" shape-rendering="crispEdges"/>
<text class="lg" x="1659" y="215.5">Online Channel</text>
<line x1="1475" y1="267" x2="1648" y2="267" stroke="#00ff00" stroke-width="4" shape-rendering="crispEdges"/>
<text class="lg" x="1659" y="286.5">Retail Channel</text>
<line x1="1475" y1="338" x2="1648" y2="338" stroke="#0000ff" stroke-width="4" shape-rendering="crispEdges"/>
<text class="lg" x="1659" y="357.5">Dual Channels</text>
</svg>
</body>
</html>
